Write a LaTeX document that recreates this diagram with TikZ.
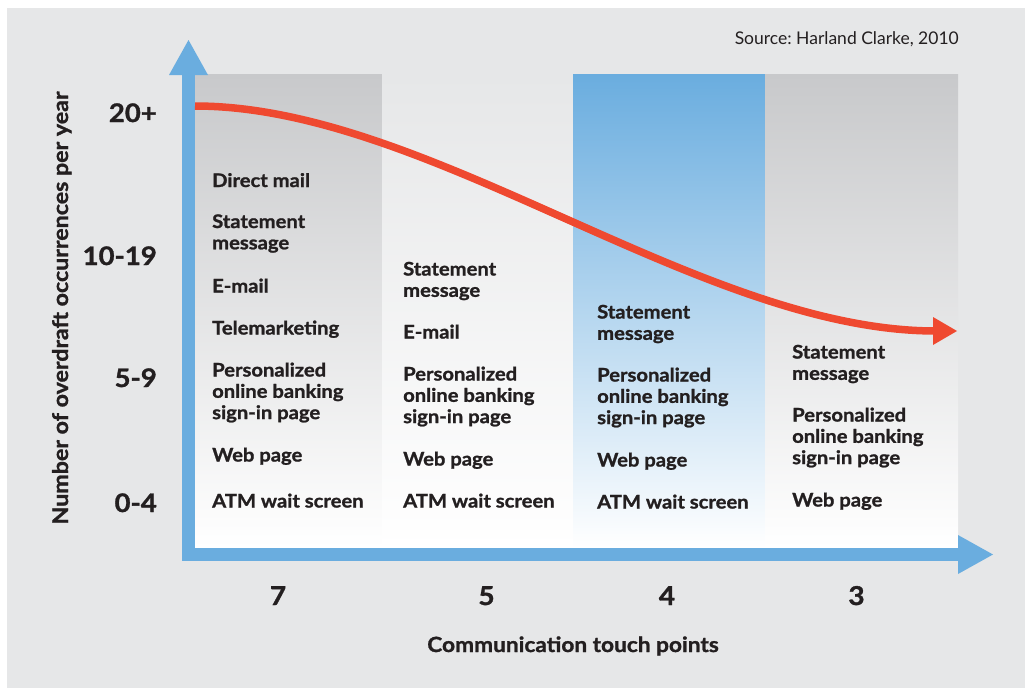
\documentclass[tikz,border=0pt]{standalone}
\usepackage{fontspec}
\setmainfont{Lato}[BoldFeatures={FakeStretch=1.08,FakeBold=1.2}]
\frenchspacing
\definecolor{bg}{HTML}{E6E7E8}
\definecolor{axisblue}{HTML}{6AADDF}
\definecolor{curvered}{HTML}{EF4930}
\definecolor{colgray}{HTML}{C8C9CB}
\definecolor{ink}{HTML}{231F20}
\tikzset{
  itemtext/.style={font=\fontsize{18.7}{21.3}\selectfont\bfseries, align=left, inner sep=0pt, anchor=base west, text=ink},
  ylab/.style={font=\fontsize{25.5}{28}\selectfont\bfseries, inner sep=0pt, anchor=base east, text=ink},
  xlab/.style={font=\fontsize{26}{28}\selectfont\bfseries, inner sep=0pt, anchor=base, text=ink},
  axistitle/.style={font=\fontsize{21}{24}\selectfont\bfseries, inner sep=0pt, anchor=base, text=ink},
}
\begin{document}
\begin{tikzpicture}[x=1pt,y=-1pt]
\useasboundingbox (0,0) rectangle (1025,688);
\fill[white] (0,0) rectangle (1025,688);
\fill[bg] (7,8) rectangle (1025,688);
% columns
\shade[top color=colgray, bottom color=white] (195,74) rectangle (382,548);
\shade[top color=bg, bottom color=white] (382,74) rectangle (573,548);
\shade[top color=axisblue, bottom color=white] (573,74) rectangle (765,548);
\shade[top color=colgray, bottom color=white] (765,74) rectangle (958,548);
% axes
\fill[axisblue] (182,75) rectangle (195,561);
\fill[axisblue] (169,75) -- (188.5,40) -- (208,75) -- cycle;
\fill[axisblue] (182,548) rectangle (958,561);
\fill[axisblue] (958,535) -- (993,554.5) -- (958,574) -- cycle;
% curve
\coordinate (cstart) at (195,106);
\coordinate (cend) at (936,331);
\draw[curvered, line width=7.5pt] (cstart) .. controls (430,106) and (700,331) .. (cend);
\fill[curvered] (933,317) -- (957,331) -- (933,345) -- cycle;
% source
\node[font=\fontsize{17.5}{21}\selectfont, text=ink, inner sep=0pt, anchor=base east] (src) at (959,44) {Source: Harland Clarke, 2010};
% y labels
\node[ylab] (y20) at (157,122) {20+};
\node[ylab] (y10) at (157,265) {10-19};
\node[ylab] (y5) at (157,387) {5-9};
\node[ylab] (y0) at (157,512) {0-4};
\node[axistitle, font=\fontsize{21.5}{24}\selectfont\bfseries, rotate=90] (ytitle) at (68,308) {Number of overdraft occurrences per year};
% x labels
\node[xlab] (x7) at (278,605) {7};
\node[xlab] (x5) at (486.5,605) {5};
\node[xlab] (x4) at (667,605) {4};
\node[xlab] (x3) at (856.5,605) {3};
\node[axistitle] (xtitle) at (573,652) {Communication touch points};
% column 1
\node[itemtext] (a1) at (212,187) {Direct mail};
\node[itemtext] (a2) at (212,249.3) {Statement\\message};
\node[itemtext] (a3) at (212,292.5) {E-mail};
\node[itemtext] (a4) at (212,334.5) {Telemarketing};
\node[itemtext] (a5) at (212,419.1) {Personalized\\online banking\\sign-in page};
\node[itemtext] (a6) at (212,461.5) {Web page};
\node[itemtext] (a7) at (212,507.5) {ATM wait screen};
% column 2
\node[itemtext] (b1) at (403,296.8) {Statement\\message};
\node[itemtext] (b2) at (403,338.5) {E-mail};
\node[itemtext] (b3) at (403,423.1) {Personalized\\online banking\\sign-in page};
\node[itemtext] (b4) at (403,465.5) {Web page};
\node[itemtext] (b5) at (403,507.5) {ATM wait screen};
% column 3
\node[itemtext] (c1) at (597,339.8) {Statement\\message};
\node[itemtext] (c2) at (597,424.1) {Personalized\\online banking\\sign-in page};
\node[itemtext] (c3) at (597,466.5) {Web page};
\node[itemtext] (c4) at (597,508.5) {ATM wait screen};
% column 4
\node[itemtext] (d1) at (792,379.8) {Statement\\message};
\node[itemtext] (d2) at (792,464.1) {Personalized\\online banking\\sign-in page};
\node[itemtext] (d3) at (792,506.5) {Web page};
\end{tikzpicture}
\end{document}
